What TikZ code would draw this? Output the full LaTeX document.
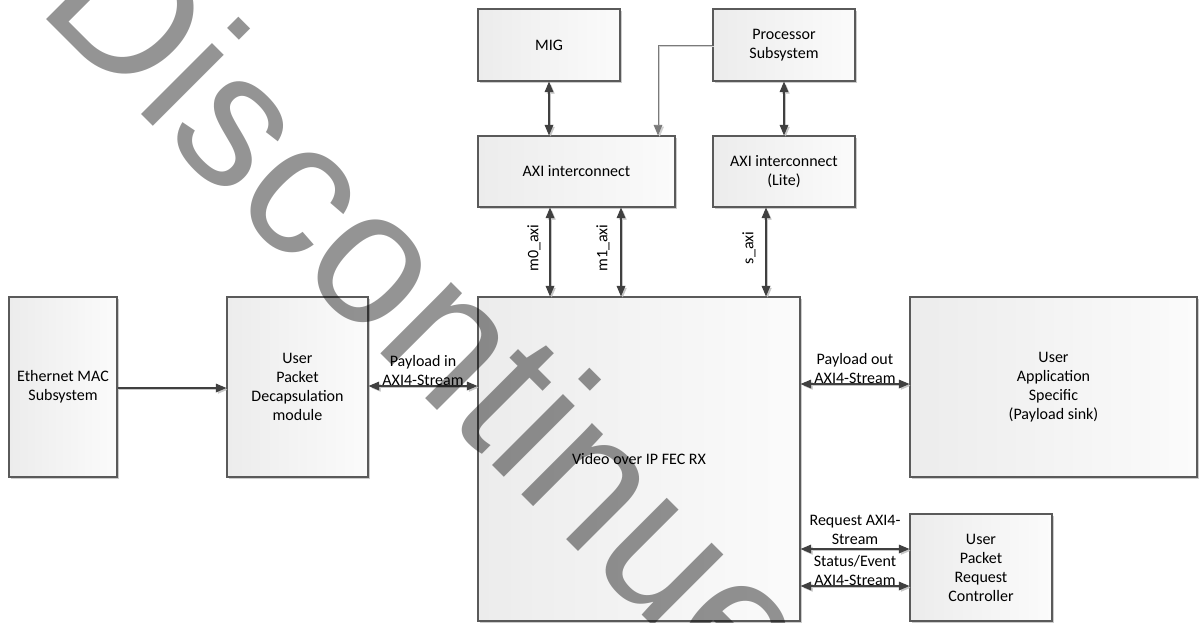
\documentclass[tikz,border=0pt]{standalone}
\usepackage{fontspec}
\setmainfont{Carlito}
\newfontfamily\wmfont{Liberation Sans}
\usetikzlibrary{arrows.meta,shadows,calc}
\definecolor{lineC}{HTML}{404040}
\definecolor{lineL}{HTML}{7A7A7A}
\definecolor{boxline}{HTML}{5A5A5A}
\definecolor{boxl}{HTML}{ECECEC}
\definecolor{boxr}{HTML}{FBFBFB}
\tikzset{
  box/.style={draw=boxline, line width=0.8pt, left color=boxl, right color=boxr,
    align=center, inner sep=0pt, font=\fontsize{12}{14.25}\selectfont,
    drop shadow={shadow xshift=1.2pt, shadow yshift=-1.2pt, fill=black, opacity=0.2}},
  lbl/.style={align=center, inner sep=0pt, font=\fontsize{12}{14.25}\selectfont},
  conn/.style={draw=lineC, line width=0.9pt, {Triangle[length=8pt,width=6.5pt]}-{Triangle[length=8pt,width=6.5pt]},
    preaction={draw=black!22, transform canvas={xshift=1.3pt,yshift=-1.3pt}}},
  conn1/.style={draw=lineC, line width=0.9pt, -{Triangle[length=8pt,width=6.5pt]},
    preaction={draw=black!22, transform canvas={xshift=1.3pt,yshift=-1.3pt}}},
  connL/.style={draw=lineL, line width=0.7pt, -{Triangle[length=8pt,width=6.5pt]},
    preaction={draw=black!18, transform canvas={xshift=1.3pt,yshift=-1.3pt}}},
  wm/.style={anchor=base west, rotate=-45, inner sep=0pt, text=black, text opacity=0.42,
    font=\wmfont\fontsize{142.5}{142.5}\selectfont}
}
\newcommand\bx[6]{\node[box, minimum width={(#4-#2)*0.75pt}, minimum height={(#5-#3)*0.75pt}] (#1) at ({(#2+#4)/2},{(#3+#5)/2}) {#6};}
\begin{document}
\begin{tikzpicture}[x=0.75pt,y=-0.75pt]
\useasboundingbox (0,0) rectangle (1199,622);
\fill[white] (0,0) rectangle (1199,622);
% boxes
\bx{ETH}{9}{297}{117}{477}{Ethernet MAC\\Subsystem}
\bx{DEC}{227}{297}{368}{477}{User\\Packet\\Decapsulation\\module}
\bx{VID}{478}{297}{800}{621}{Video over IP FEC RX}
\bx{APP}{910}{297}{1197}{477}{User\\Application\\Specific\\(Payload sink)}
\bx{REQ}{910}{514}{1052}{621}{User\\Packet\\Request\\Controller}
\bx{MIG}{478}{9}{620}{81}{MIG}
\bx{PROC}{713}{9}{855}{81}{Processor\\Subsystem}
\bx{AXI}{478}{136}{675}{207}{AXI interconnect}
\bx{LITE}{713}{136}{855}{207}{AXI interconnect\\(Lite)}
% connectors
\draw[conn] (MIG.south) -- (MIG.south |- AXI.north);
\draw[connL] (PROC.west) -| (658,0 |- AXI.north);
\draw[conn] (PROC.south) -- (PROC.south |- LITE.north);
\draw[conn] (550,0 |- AXI.south) -- (550,0 |- VID.north);
\draw[conn] (621,0 |- AXI.south) -- (621,0 |- VID.north);
\draw[conn] (766,0 |- LITE.south) -- (766,0 |- VID.north);
\draw[conn1] (ETH.east |- 0,388) -- (DEC.west |- 0,388);
\draw[conn] (DEC.east |- 0,386) -- (VID.west |- 0,386);
\draw[conn] (VID.east |- 0,384) -- (APP.west |- 0,384);
\draw[conn] (VID.east |- 0,549) -- (REQ.west |- 0,549);
\draw[conn] (VID.east |- 0,586) -- (REQ.west |- 0,586);
% labels
\node[lbl] (l1) at (423,370) {Payload in\\AXI4-Stream};
\node[lbl] (l2) at (855,368) {Payload out\\AXI4-Stream};
\node[lbl] (l3) at (855,530) {Request AXI4-\\Stream};
\node[lbl] (l4) at (855,570) {Status/Event\\AXI4-Stream};
\node[lbl, rotate=90] (l5) at (534,248) {m0\_axi};
\node[lbl, rotate=90] (l6) at (603,248) {m1\_axi};
\node[lbl, rotate=90] (l7) at (749,248) {s\_axi};
% watermark
\begin{scope}
\clip (0,0) rectangle (1199,622);
\node[wm] (W) at (35,8) {Discontinued};
\end{scope}
\end{tikzpicture}
\end{document}
